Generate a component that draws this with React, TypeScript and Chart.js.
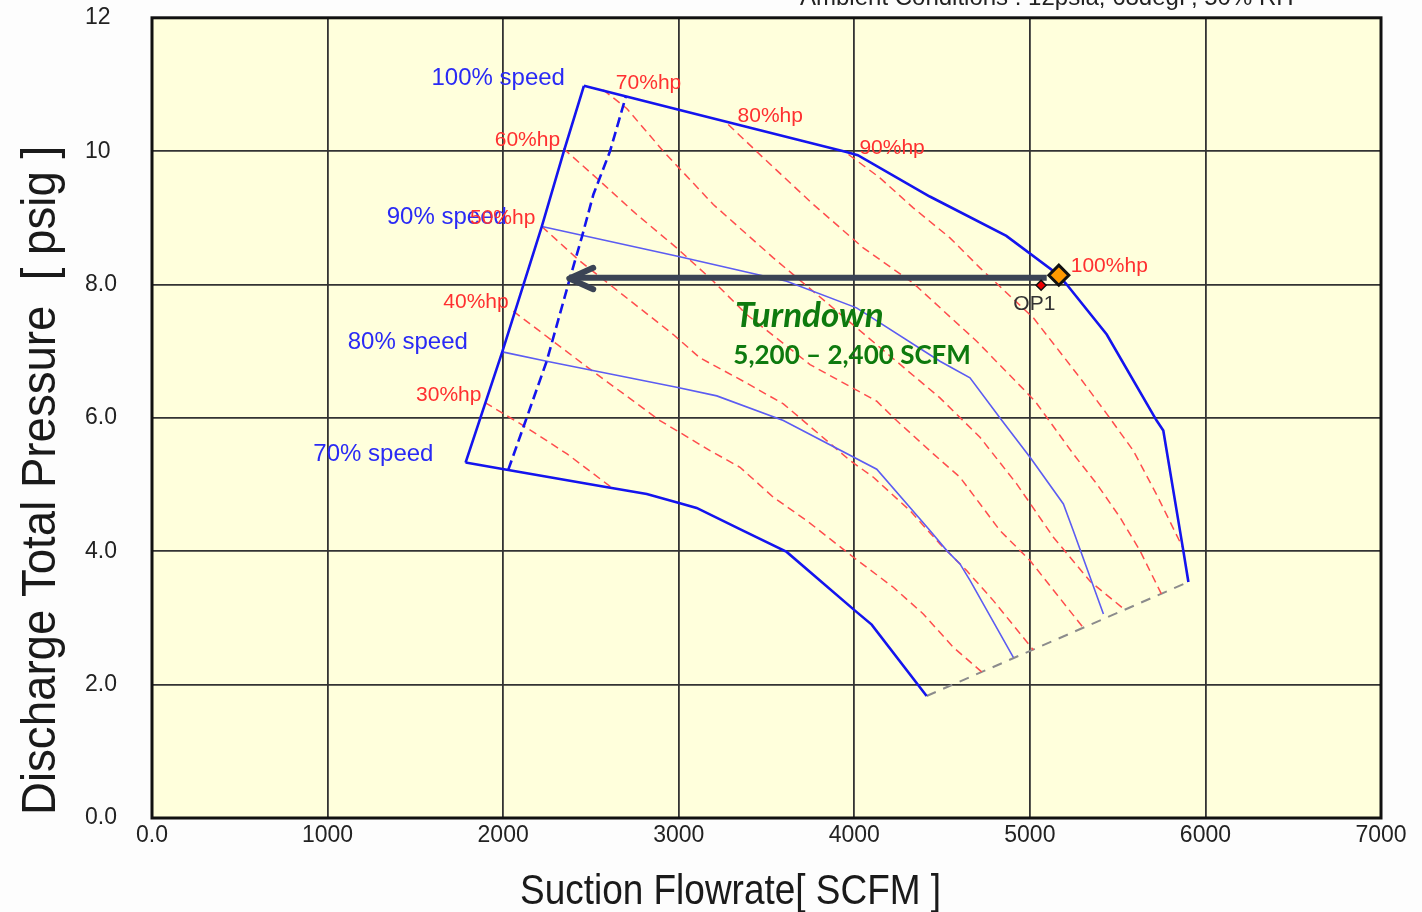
import React, { useEffect, useRef } from 'react';
import { Chart, registerables } from 'chart.js';

Chart.register(...registerables);

// ---------- tick labels ----------
const xTickLabels = ['0.0', '1000', '2000', '3000', '4000', '5000', '6000', '7000'];
const yTickLabels = ['0.0', '2.0', '4.0', '6.0', '8.0', '10', '12'];

// ---------- envelope / speed curves (SCFM, psig) ----------
const surgeFlow = [1786, 1995, 2220, 2346, 2460];
const surgePsig = [5.33, 6.99, 8.87, 10.0, 10.98];

const speed100Flow = [2460, 3000, 3950, 4020, 4430, 4866, 5160, 5210, 5438, 5722, 5760, 5874, 5903];
const speed100Psig = [10.98, 10.62, 9.99, 9.94, 9.32, 8.73, 8.15, 8.0, 7.25, 5.96, 5.81, 4.01, 3.54];

const speed90Flow = [2221, 3000, 3615, 4013, 4488, 4659, 4830, 5001, 5191, 5247, 5419];
const speed90Psig = [8.87, 8.42, 8.05, 7.65, 6.85, 6.6, 6.0, 5.41, 4.71, 4.31, 3.06];

const speed80Flow = [1995, 2248, 2988, 3217, 3596, 4128, 4431, 4527, 4602, 4660, 4906];
const speed80Psig = [6.99, 6.85, 6.46, 6.33, 5.96, 5.23, 4.31, 4.01, 3.81, 3.56, 2.41];

const speed70Flow = [1786, 2029, 2552, 2818, 3007, 3102, 3366, 3615, 4004, 4099, 4412];
const speed70Psig = [5.33, 5.22, 4.98, 4.86, 4.72, 4.65, 4.31, 3.99, 3.11, 2.9, 1.83];

const surgeCtrlFlow = [2029, 2248, 2381, 2447, 2514, 2609, 2700];
const surgeCtrlPsig = [5.22, 6.85, 8.1, 8.7, 9.35, 10.0, 10.83];

const chokeFlow = [4412, 5903];
const chokePsig = [1.83, 3.54];

// ---------- constant horsepower lines ----------
const hp30Flow = [1897, 2136, 2364, 2626];
const hp30Psig = [6.23, 5.85, 5.46, 4.94];

const hp40Flow = [2058, 2495, 2893, 3178, 3349, 3539, 3729, 3995, 4222, 4393, 4564, 4726];
const hp40Psig = [7.6, 6.73, 5.96, 5.51, 5.26, 4.81, 4.46, 3.91, 3.46, 3.06, 2.56, 2.19];

const hp50Flow = [2220, 2438, 2969, 3121, 3368, 3596, 3843, 3976, 4109, 4317, 4488, 4640, 4792, 5020];
const hp50Psig = [8.87, 8.35, 7.25, 6.9, 6.55, 6.21, 5.66, 5.36, 5.11, 4.61, 4.11, 3.71, 3.26, 2.52];

const hp60Flow = [2343, 2552, 2761, 2988, 3197, 3387, 3748, 4128, 4241, 4450, 4602, 4830, 5001, 5305];
const hp60Psig = [10.04, 9.55, 9.05, 8.55, 8.05, 7.55, 6.8, 6.25, 5.96, 5.46, 5.11, 4.31, 3.86, 2.85];

const hp70Flow = [2570, 2704, 2912, 3197, 3539, 4488, 4716, 4925, 5134, 5343, 5542];
const hp70Psig = [10.92, 10.64, 10.0, 9.2, 8.4, 6.3, 5.71, 5.01, 4.21, 3.55, 3.12];

const hp80Flow = [3282, 3482, 3767, 4051, 4336, 4697, 5030, 5247, 5381, 5513, 5627, 5749];
const hp80Psig = [10.4, 9.9, 9.2, 8.55, 8.02, 7.15, 6.25, 5.46, 5.01, 4.51, 4.01, 3.36];

const hp90Flow = [3967, 4146, 4336, 4545, 4716, 5020, 5153, 5286, 5438, 5589, 5722, 5870];
const hp90Psig = [9.95, 9.6, 9.15, 8.7, 8.25, 7.5, 7.05, 6.6, 6.06, 5.51, 4.85, 4.06];

// ---------- operating points & turndown arrow ----------
const opFlow = [5064];
const opPsig = [7.99];
const ratedFlow = [5165];
const ratedPsig = [8.14];
const arrowFlow = [5096, 2377];
const arrowPsig = [8.1, 8.1];
const arrowHeadFlow = [2513, 2377, 2513];
const arrowHeadPsig = [8.25, 8.09, 7.93];

const zip = (xs: number[], ys: number[]) => xs.map((x, i) => ({ x, y: ys[i] }));

const SANS = '"Liberation Sans", Arial, Helvetica, sans-serif';

const line = (data: any, color: string, width: number, dash: number[] = []) => ({
  data,
  showLine: true,
  borderColor: color,
  backgroundColor: color,
  borderWidth: width,
  borderDash: dash,
  pointRadius: 0,
  pointHoverRadius: 0,
  fill: false,
  tension: 0,
});

const BLUE = '#1414ee';
const BLUE_LT = '#5c5cf2';
const RED = '#ff4d4d';

// text annotations placed in data units (SCFM, psig): left edge, vertical middle
const annotations = [
  { text: '100% speed', x: 1592, y: 11.09, color: '#2a2af5', font: `24px ${SANS}` },
  { text: '90% speed', x: 1337, y: 9.0, color: '#2a2af5', font: `24px ${SANS}` },
  { text: '80% speed', x: 1115, y: 7.13, color: '#2a2af5', font: `24px ${SANS}` },
  { text: '70% speed', x: 919, y: 5.46, color: '#2a2af5', font: `24px ${SANS}` },
  { text: '30%hp', x: 1504, y: 6.34, color: '#ff3030', font: `21px ${SANS}` },
  { text: '40%hp', x: 1659, y: 7.73, color: '#ff3030', font: `21px ${SANS}` },
  { text: '50%hp', x: 1811, y: 9.0, color: '#ff3030', font: `21px ${SANS}` },
  { text: '60%hp', x: 1952, y: 10.17, color: '#ff3030', font: `21px ${SANS}` },
  { text: '70%hp', x: 2642, y: 11.02, color: '#ff3030', font: `21px ${SANS}` },
  { text: '80%hp', x: 3335, y: 10.53, color: '#ff3030', font: `21px ${SANS}` },
  { text: '90%hp', x: 4029, y: 10.04, color: '#ff3030', font: `21px ${SANS}` },
  { text: '100%hp', x: 5233, y: 8.27, color: '#ff3030', font: `21px ${SANS}` },
  { text: 'OP1', x: 4906, y: 7.7, color: '#333333', font: `21px ${SANS}` },
  { text: 'Turndown', x: 3321, y: 7.53, color: '#0e7a0e', font: `italic bold 35px Lato, "Open Sans", sans-serif` },
  { text: '5,200 – 2,400 SCFM', x: 3311, y: 6.94, color: '#0e7a0e', font: `bold 26px Lato, "Open Sans", sans-serif` },
];

const decorPlugin = {
  id: 'decor',
  beforeDraw(chart: any) {
    const { ctx, chartArea: a } = chart;
    ctx.save();
    ctx.fillStyle = '#fdfdfd';
    ctx.fillRect(0, 0, chart.width, chart.height);
    ctx.fillStyle = '#ffffdc';
    ctx.fillRect(a.left, a.top, a.right - a.left, a.bottom - a.top);
    ctx.restore();
  },
  beforeDatasetsDraw(chart: any) {
    const { ctx, chartArea: a } = chart;
    ctx.save();
    ctx.strokeStyle = '#111';
    ctx.lineWidth = 3;
    ctx.strokeRect(a.left, a.top, a.right - a.left, a.bottom - a.top);
    ctx.restore();
  },
  afterDraw(chart: any) {
    const { ctx } = chart;
    const xs = chart.scales.x;
    const ys = chart.scales.y;
    ctx.save();
    ctx.textAlign = 'left';
    ctx.textBaseline = 'middle';
    for (const an of annotations) {
      ctx.font = an.font;
      ctx.fillStyle = an.color;
      ctx.fillText(an.text, xs.getPixelForValue(an.x), ys.getPixelForValue(an.y));
    }
    // partially visible heading at the very top
    ctx.font = `24px ${SANS}`;
    ctx.fillStyle = '#222';
    ctx.textBaseline = 'alphabetic';
    ctx.fillText('Ambient Conditions : 12psia, 68degF, 50% RH', 800, 5);
    // x-axis title
    ctx.save();
    ctx.translate(520, 904);
    ctx.scale(0.88, 1);
    ctx.font = `42px ${SANS}`;
    ctx.fillStyle = '#1a1a1a';
    ctx.fillText('Suction Flowrate[ SCFM ]', 0, 0);
    ctx.restore();
    // y-axis title
    ctx.save();
    ctx.translate(55, 815);
    ctx.rotate(-Math.PI / 2);
    ctx.scale(0.95, 1);
    ctx.font = `48px ${SANS}`;
    ctx.fillStyle = '#1a1a1a';
    ctx.fillText('Discharge Total Pressure  [ psig ]', 0, 0);
    ctx.restore();
    ctx.restore();
  },
};

export default function App() {
  const ref = useRef<HTMLCanvasElement>(null);

  useEffect(() => {
    if (!ref.current) return;
    const datasets: any[] = [
      {
        data: zip(ratedFlow, ratedPsig),
        showLine: false,
        pointStyle: 'rectRot',
        pointRadius: 10,
        pointBackgroundColor: '#ff9900',
        pointBorderColor: '#111',
        pointBorderWidth: 3,
      },
      {
        data: zip(opFlow, opPsig),
        showLine: false,
        pointStyle: 'rectRot',
        pointRadius: 5,
        pointBackgroundColor: '#ee0000',
        pointBorderColor: '#111',
        pointBorderWidth: 1.5,
      },
      { ...line(zip(arrowHeadFlow, arrowHeadPsig), '#3b4455', 6), borderCapStyle: 'round', borderJoinStyle: 'round' },
      { ...line(zip(arrowFlow, arrowPsig), '#3b4455', 6), borderCapStyle: 'butt' },
      line(zip(speed100Flow, speed100Psig), BLUE, 2.6),
      line(zip(speed70Flow, speed70Psig), BLUE, 2.6),
      line(zip(surgeFlow, surgePsig), BLUE, 2.6),
      line(zip(surgeCtrlFlow, surgeCtrlPsig), BLUE, 2.6, [10, 5]),
      line(zip(speed90Flow, speed90Psig), BLUE_LT, 1.6),
      line(zip(speed80Flow, speed80Psig), BLUE_LT, 1.6),
      line(zip(hp30Flow, hp30Psig), RED, 1.5, [8, 5]),
      line(zip(hp40Flow, hp40Psig), RED, 1.5, [8, 5]),
      line(zip(hp50Flow, hp50Psig), RED, 1.5, [8, 5]),
      line(zip(hp60Flow, hp60Psig), RED, 1.5, [8, 5]),
      line(zip(hp70Flow, hp70Psig), RED, 1.5, [8, 5]),
      line(zip(hp80Flow, hp80Psig), RED, 1.5, [8, 5]),
      line(zip(hp90Flow, hp90Psig), RED, 1.5, [8, 5]),
      line(zip(chokeFlow, chokePsig), '#8c8c8c', 2, [10, 8]),
    ];

    const tickFont = { family: SANS, size: 23 };

    const chart = new Chart(ref.current, {
      type: 'scatter',
      data: { datasets },
      options: {
        responsive: false,
        animation: false,
        events: [],
        layout: { padding: { left: 85, top: 16, right: 41, bottom: 0 } },
        plugins: {
          legend: { display: false },
          tooltip: { enabled: false },
          title: { display: false },
        },
        scales: {
          x: {
            type: 'linear',
            min: 0,
            max: 7000,
            afterFit: (s: any) => {
              s.height = 94;
            },
            ticks: {
              stepSize: 1000,
              autoSkip: false,
              maxRotation: 0,
              padding: 4,
              color: '#222',
              font: tickFont,
              callback: (_v: any, i: number) => xTickLabels[i],
            },
            grid: { color: '#333', lineWidth: 1.8, drawTicks: false },
            border: { display: false },
          },
          y: {
            type: 'linear',
            min: 0,
            max: 12,
            afterFit: (s: any) => {
              s.width = 67;
            },
            ticks: {
              stepSize: 2,
              autoSkip: false,
              crossAlign: 'far',
              padding: 4,
              color: '#222',
              font: tickFont,
              callback: (_v: any, i: number) => yTickLabels[i],
            },
            grid: { color: '#333', lineWidth: 1.8, drawTicks: false },
            border: { display: false },
          },
        },
      } as any,
      plugins: [decorPlugin],
    });
    return () => chart.destroy();
  }, []);

  return (
    <div style={{ position: 'fixed', left: 0, top: 0, width: 1422, height: 912, background: '#fdfdfd' }}>
      <canvas ref={ref} width={1422} height={912} style={{ display: 'block', width: 1422, height: 912 }} />
    </div>
  );
}
